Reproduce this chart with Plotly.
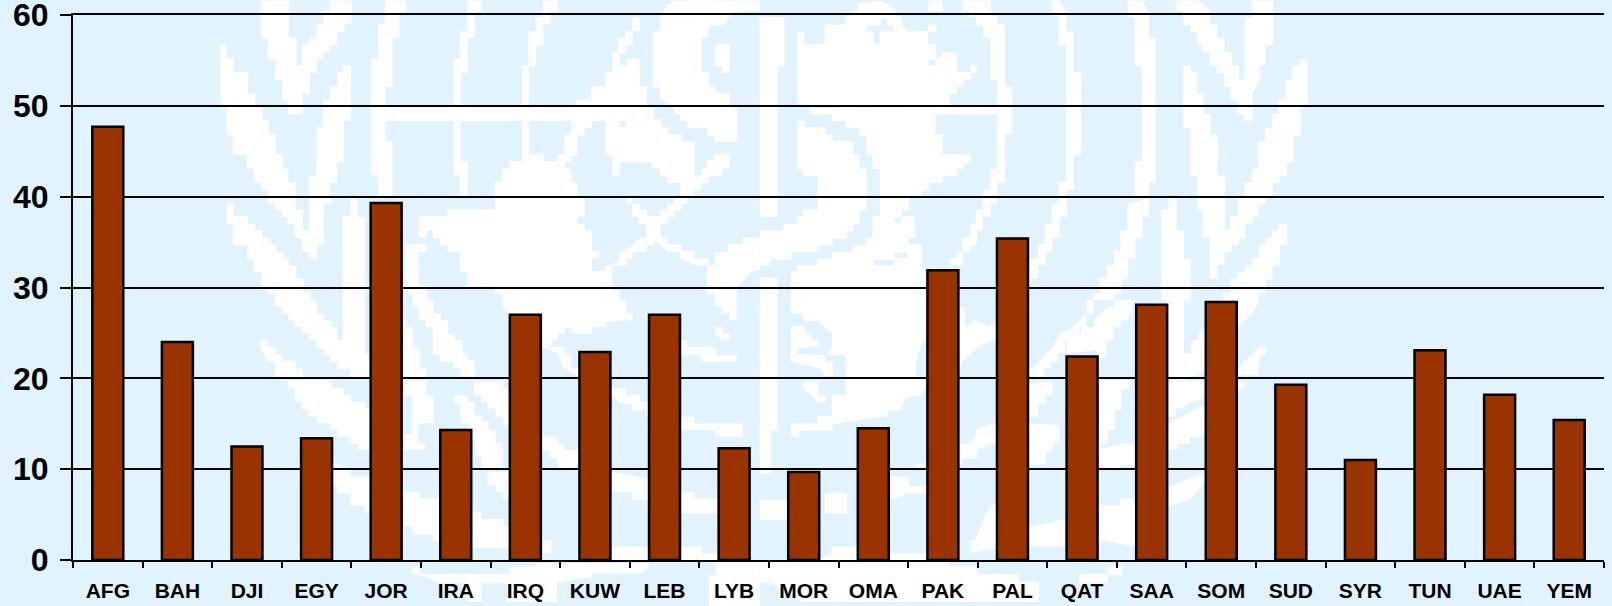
import plotly.graph_objects as go

categories = ["AFG","BAH","DJI","EGY","JOR","IRA","IRQ","KUW","LEB","LYB","MOR","OMA","PAK","PAL","QAT","SAA","SOM","SUD","SYR","TUN","UAE","YEM"]
values = [47.7,24.0,12.5,13.4,39.3,14.3,27.0,22.9,27.0,12.3,9.7,14.5,31.9,35.4,22.4,28.1,28.4,19.3,11.0,23.1,18.2,15.4]
y_ticks = [0,10,20,30,40,50,60]

# Watermark decoration: pale emblem drawn as page-pixel polygons (panel origin + offset/scale)
P1 = (200,0); P2 = (760,0); P3 = (200,300); P4 = (760,300)
WHITE = [
(P1,[(56,132),(75,132),(75,175),(95,175),(95,215),(135,215),(135,280),(155,280),(155,320),(175,320),(175,360),(192,360),(192,400),(212,400),(212,460),(232,460),(232,505),(248,505),(248,545),(268,545),(268,590),(190,590),(190,570),(170,570),(170,548),(150,548),(150,505),(132,505),(132,465),(92,465),(92,405),(75,405),(75,320),(56,320)]),
(P1,[(170,0),(250,0),(250,110),(270,110),(270,195),(285,195),(285,130),(305,130),(305,110),(325,110),(325,70),(345,70),(345,30),(365,30),(365,0),(425,0),(425,70),(405,70),(405,95),(385,95),(385,135),(365,135),(365,155),(345,155),(345,178),(328,178),(328,218),(308,218),(308,278),(288,278),(288,342),(245,342),(245,300),(230,300),(230,240),(210,240),(210,178),(190,178),(190,115),(170,115)]),
(P1,[(345,320),(345,297),(365,297),(365,258),(385,258),(385,215),(400,215),(400,195),(423,195),(423,362),(403,362),(403,487),(385,487),(385,548),(365,548),(365,590),(305,590),(305,525),(325,525),(325,380),(345,380)]),
(P1,[(518,0),(578,0),(578,32),(558,32),(558,112),(540,112),(540,260),(520,260),(520,320),(480,320),(480,173),(498,173),(498,70),(518,70)]),
(P1,[(480,320),(1040,320),(1040,362),(520,362),(520,422),(540,422),(540,590),(498,590),(498,525),(480,525)]),
(P1,[(420,595),(442,595),(442,650),(462,650),(462,900),(400,900),(400,648),(420,648)]),
(P1,[(750,0),(790,0),(790,32),(770,32),(770,112),(750,112),(750,218),(730,218),(730,320),(710,320),(710,175),(728,175),(728,92),(748,92)]),
(P1,[(960,0),(1002,0),(1002,32),(982,32),(982,70),(962,70),(962,135),(942,135),(942,198),(922,198),(922,320),(902,320),(902,195),(920,195),(920,92),(940,92),(940,50),(960,50)]),
(P1,[(710,362),(730,362),(730,482),(750,482),(750,590),(728,590),(728,525),(710,525)]),
(P1,[(902,362),(922,362),(922,462),(962,462),(962,482),(1000,482),(1000,462),(1020,462),(1020,402),(1040,402),(1040,362),(1098,362),(1098,382),(1078,382),(1078,405),(1058,405),(1058,465),(1040,465),(1040,487),(1022,487),(1022,505),(1040,505),(1040,545),(1058,545),(1058,590),(825,590),(825,545),(845,545),(845,505),(865,505),(865,482),(902,482)]),
(P1,[(1288,50),(1485,50),(1465,75),(1425,75),(1425,112),(1405,112),(1405,215),(1425,215),(1425,258),(1445,258),(1445,278),(1485,278),(1485,320),(1308,320),(1308,300),(1288,300),(1288,262),(1268,262),(1268,92),(1288,92)]),
(P1,[(1330,0),(1568,0),(1568,30),(1485,35),(1485,50),(1288,50),(1308,12)]),
(P1,[(1442,132),(1485,132),(1485,218),(1462,218),(1462,198),(1442,198)]),
(P1,[(1210,50),(1232,50),(1232,258),(1252,258),(1252,320),(1055,320),(1055,297),(1095,297),(1095,258),(1135,258),(1135,215),(1155,215),(1155,155),(1172,155),(1172,112),(1192,112),(1192,92),(1210,92)]),
(P1,[(1040,320),(1272,320),(1272,355),(1290,355),(1290,380),(1310,380),(1310,402),(1350,402),(1350,422),(1385,422),(1385,525),(1405,525),(1405,505),(1420,505),(1420,480),(1440,480),(1440,462),(1485,462),(1485,505),(1465,505),(1465,528),(1425,528),(1425,548),(1405,548),(1405,570),(1385,570),(1385,590),(1345,590),(1345,548),(1308,548),(1308,528),(1288,528),(1288,505),(1268,505),(1268,487),(1175,487),(1175,525),(1155,525),(1155,465),(1135,465),(1135,362),(1040,362)]),
(P1,[(1328,320),(1505,320),(1505,425),(1440,425),(1440,405),(1420,405),(1420,382),(1365,382),(1365,362),(1345,362),(1345,342),(1328,342)]),
(P1,[(75,608),(95,608),(95,648),(135,648),(135,670),(155,670),(155,690),(175,690),(175,712),(195,712),(195,732),(215,732),(215,755),(235,755),(235,775),(250,775),(250,795),(270,795),(270,835),(290,835),(290,875),(310,875),(310,900),(210,900),(210,880),(190,880),(190,860),(172,860),(172,815),(150,815),(150,777),(132,777),(132,735),(92,735),(92,672),(75,672)]),
(P1,[(190,592),(268,592),(268,628),(288,628),(288,690),(305,690),(305,592),(368,592),(368,612),(347,612),(347,735),(328,735),(328,777),(305,777),(305,755),(285,755),(285,712),(265,712),(265,672),(245,672),(245,650),(230,650),(230,630),(210,630),(210,612),(190,612)]),
(P1,[(828,590),(1078,590),(1078,650),(1058,650),(1058,670),(1078,670),(1078,690),(1098,690),(1098,752),(1118,752),(1118,775),(1098,775),(1098,812),(1135,812),(1135,795),(1155,795),(1155,870),(1175,870),(1175,900),(845,900),(845,880),(825,880),(825,858),(748,858),(748,815),(728,815),(728,755),(692,755),(692,735),(672,735),(672,715),(652,715),(652,692),(635,692),(635,712),(612,712),(612,648),(692,648),(692,628),(826,628)]),
(P1,[(575,732),(635,732),(635,755),(612,755),(612,795),(615,855),(635,855),(635,900),(595,900),(595,880),(565,880),(565,815),(575,815)]),
(P1,[(1195,590),(1212,590),(1212,610),(1232,610),(1232,628),(1252,628),(1252,648),(1288,648),(1288,628),(1308,628),(1308,610),(1328,610),(1328,590),(1365,590),(1365,610),(1350,610),(1350,630),(1330,630),(1330,650),(1310,650),(1310,672),(1290,672),(1290,710),(1310,710),(1310,732),(1350,732),(1350,752),(1385,752),(1385,775),(1425,775),(1425,795),(1442,795),(1442,755),(1480,755),(1480,732),(1520,732),(1520,712),(1568,712),(1568,810),(1540,815),(1525,840),(1505,860),(1505,900),(1442,900),(1442,880),(1420,880),(1420,795),(1385,795),(1345,775),(1345,755),(1310,755),(1288,735),(1272,715),(1272,735),(1252,735),(1252,755),(1212,755),(1212,775),(1195,775),(1195,795),(1155,795),(1175,775),(1175,755),(1212,735),(1232,712),(1250,712),(1250,672),(1228,672),(1228,650),(1210,650),(1210,610),(1195,610)]),
(P2,[(0,50),(70,50),(70,198),(50,198),(50,320),(0,320)]),
(P2,[(105,320),(105,95),(125,95),(125,132),(182,132),(182,72),(240,72),(240,45),(260,45),(260,30),(275,30),(275,8),(340,0),(360,12),(380,30),(380,45),(398,50),(398,72),(418,92),(470,92),(472,72),(495,72),(495,95),(472,95),(472,132),(493,132),(493,172),(510,172),(510,155),(552,155),(552,215),(590,215),(590,195),(608,195),(608,218),(592,218),(592,238),(572,238),(572,260),(552,260),(552,280),(532,280),(532,320)]),
(P2,[(472,0),(512,0),(512,32),(472,32)]),
(P2,[(568,0),(648,0),(648,40),(665,50),(665,72),(687,72),(687,258),(707,258),(707,320),(665,320),(665,240),(645,240),(645,112),(625,112),(625,75),(605,75),(605,50),(588,50),(588,32),(568,32)]),
(P2,[(818,0),(840,0),(860,40),(860,92),(880,92),(880,215),(900,215),(900,320),(857,320),(857,135),(837,135),(837,52),(818,45)]),
(P2,[(1030,0),(1072,0),(1090,40),(1090,112),(1110,112),(1110,320),(1070,320),(1070,198),(1050,198),(1050,50),(1030,50)]),
(P2,[(1165,0),(1228,0),(1242,12),(1262,30),(1262,72),(1282,72),(1282,112),(1302,112),(1302,155),(1322,155),(1322,195),(1342,195),(1342,238),(1358,238),(1358,50),(1378,50),(1378,0),(1438,0),(1438,135),(1418,135),(1418,195),(1400,195),(1400,238),(1380,280),(1380,320),(1338,320),(1338,300),(1318,300),(1318,260),(1300,260),(1300,218),(1280,218),(1280,198),(1260,198),(1260,155),(1240,155),(1240,135),(1225,135),(1225,95),(1205,95),(1205,75),(1185,75),(1185,32),(1165,32)]),
(P2,[(1185,195),(1208,195),(1208,215),(1225,215),(1225,278),(1243,278),(1243,320),(1185,320)]),
(P2,[(1512,175),(1535,175),(1535,320),(1452,320),(1452,297),(1472,297),(1472,238),(1492,238),(1492,195),(1512,195)]),
(P2,[(0,320),(50,320),(50,650),(0,650)]),
(P2,[(105,322),(142,322),(142,342),(202,342),(202,362),(240,362),(240,382),(278,382),(278,405),(298,405),(298,465),(316,465),(316,505),(336,505),(336,590),(455,590),(455,570),(475,570),(475,548),(512,548),(512,528),(552,528),(552,505),(572,505),(572,487),(592,487),(592,462),(512,462),(512,402),(492,402),(492,342),(665,342),(665,320)]),
(P2,[(105,360),(125,360),(125,380),(185,380),(185,402),(205,402),(205,422),(262,422),(262,462),(280,462),(280,505),(300,505),(300,590),(162,590),(162,528),(122,528),(122,507),(105,507)]),
(P2,[(665,320),(707,320),(707,402),(687,402),(687,548),(665,548),(665,590),(625,590),(625,567),(645,567),(645,505),(665,505)]),
(P2,[(857,320),(900,320),(900,465),(880,465),(880,570),(860,570),(860,590),(837,590),(837,545),(857,545)]),
(P2,[(1070,320),(1110,320),(1110,548),(1090,548),(1090,590),(1050,590),(1050,483),(1070,483)]),
(P2,[(1185,320),(1243,320),(1243,340),(1263,340),(1263,402),(1283,402),(1283,525),(1303,525),(1303,590),(1225,590),(1225,528),(1205,528),(1205,383),(1185,383)]),
(P2,[(1338,320),(1380,320),(1380,362),(1358,362),(1358,342),(1338,342)]),
(P2,[(1452,320),(1515,320),(1515,405),(1495,405),(1495,487),(1477,487),(1477,528),(1457,528),(1457,548),(1437,548),(1437,590),(1358,590),(1358,545),(1378,545),(1378,505),(1396,505),(1396,422),(1415,422),(1415,382),(1435,382),(1435,340),(1452,340)]),
(P2,[(162,590),(300,590),(300,630),(280,630),(280,672),(262,672),(262,692),(245,692),(245,715),(205,715),(205,735),(165,735),(165,755),(90,755),(90,778),(30,778),(30,795),(0,795),(0,690),(65,690),(65,670),(105,670),(105,648),(122,648),(122,628),(162,628)]),
(P2,[(0,832),(50,832),(50,900),(0,900)]),
(P2,[(105,795),(162,795),(162,775),(202,775),(202,755),(260,755),(260,735),(298,735),(298,712),(316,712),(316,648),(336,648),(336,590),(418,590),(418,628),(398,628),(398,648),(435,648),(435,690),(438,712),(418,712),(418,732),(455,732),(455,812),(470,812),(470,900),(87,900),(87,812),(105,812)]),
(P2,[(605,628),(625,628),(625,690),(608,690),(608,735),(590,735),(590,755),(570,755),(570,795),(530,795),(530,775),(550,775),(550,752),(568,752),(568,712),(588,712),(588,670),(605,670)]),
(P2,[(625,590),(665,590),(665,612),(647,612),(647,650),(627,650)]),
(P2,[(838,590),(860,590),(860,650),(840,650),(840,712),(820,712),(820,755),(800,755),(800,795),(780,795),(780,835),(762,835),(750,860),(750,800),(760,775),(778,775),(778,732),(798,732),(798,670),(818,670),(818,610),(838,610)]),
(P2,[(1050,605),(1090,592),(1090,650),(1072,650),(1072,712),(1052,712),(1052,775),(1032,775),(1032,838),(1014,838),(1014,880),(995,880),(995,900),(932,900),(932,878),(952,878),(952,832),(972,832),(972,795),(992,795),(992,752),(1010,752),(1010,690),(1030,690),(1030,610)]),
(P2,[(1145,595),(1168,595),(1168,690),(1188,690),(1188,775),(1207,775),(1207,900),(1125,900),(1125,628),(1145,628)]),
(P2,[(1225,590),(1303,590),(1303,690),(1318,690),(1318,648),(1338,648),(1338,590),(1418,590),(1418,612),(1398,612),(1398,650),(1380,650),(1380,672),(1360,672),(1360,715),(1340,715),(1340,735),(1322,735),(1322,755),(1302,755),(1302,795),(1282,795),(1282,835),(1260,835),(1260,712),(1240,712),(1240,630),(1225,630)]),
(P2,[(1452,670),(1477,670),(1477,735),(1457,735),(1457,795),(1437,795),(1437,838),(1418,838),(1418,878),(1398,878),(1398,900),(1298,900),(1298,878),(1318,878),(1318,835),(1338,835),(1338,815),(1358,815),(1358,795),(1378,795),(1378,772),(1398,772),(1398,733),(1415,733),(1415,712),(1435,712),(1435,690),(1452,690)]),
(P3,[(210,0),(328,0),(328,40),(348,40),(348,60),(368,60),(368,80),(385,80),(385,120),(400,120),(400,0),(462,0),(462,160),(475,160),(475,235),(420,235),(420,208),(385,208),(385,185),(365,185),(365,165),(345,165),(345,145),(325,145),(325,120),(305,120),(305,100),(285,100),(285,80),(265,80),(265,60),(248,60),(248,40),(230,40),(230,20),(210,20)]),
(P3,[(170,120),(190,120),(190,140),(212,140),(212,162),(232,162),(232,182),(268,182),(268,205),(288,205),(288,235),(210,235),(210,185),(190,185),(170,145)]),
(P3,[(230,240),(368,240),(368,262),(403,262),(403,285),(423,285),(423,305),(462,305),(462,325),(475,325),(475,450),(442,450),(442,432),(420,432),(420,410),(385,410),(385,390),(365,390),(365,370),(328,370),(328,350),(305,350),(305,330),(285,330),(285,305),(265,305),(265,265),(245,265),(245,240)]),
(P3,[(370,490),(385,490),(420,510),(420,530),(475,530),(475,640),(460,640),(460,618),(420,618),(420,580),(385,580),(385,555),(370,555)]),
(P3,[(595,0),(655,0),(655,40),(675,40),(675,60),(695,60),(695,100),(715,100),(715,120),(735,120),(735,160),(750,160),(750,180),(770,180),(770,230),(730,230),(730,205),(710,205),(710,185),(672,185),(672,165),(652,165),(652,80),(632,80),(632,60),(612,60),(612,20),(595,20)]),
(P3,[(565,60),(578,60),(578,80),(595,80),(595,140),(615,140),(615,205),(635,205),(635,235),(565,235)]),
(P3,[(568,242),(635,242),(635,285),(655,285),(655,370),(612,370),(612,430),(632,430),(632,450),(565,450),(565,400),(595,400),(595,290),(568,290)]),
(P3,[(712,285),(750,285),(750,305),(770,305),(770,345),(790,345),(790,365),(810,365),(810,390),(828,390),(828,430),(848,430),(848,505),(788,505),(788,470),(770,470),(770,420),(750,420),(750,370),(730,370),(730,310),(712,310)]),
(P3,[(768,245),(850,245),(850,265),(865,265),(865,375),(848,375),(848,350),(828,350),(828,325),(805,325),(805,305),(788,305),(788,285),(768,285)]),
(P3,[(565,575),(615,575),(615,595),(672,595),(672,725),(652,725),(652,705),(595,705),(595,680),(565,680)]),
(P3,[(805,515),(870,515),(870,598),(848,598),(848,575),(828,575),(828,555),(805,555)]),
(P3,[(762,635),(790,635),(790,657),(850,657),(850,678),(870,678),(870,745),(765,745)]),
(P3,[(960,720),(984,720),(984,760),(960,760)]),
(P3,[(847,0),(1195,0),(1195,40),(1212,40),(1212,60),(1138,65),(1138,80),(1098,80),(1098,100),(1040,100),(1040,82),(1022,82),(1022,100),(1002,100),(1002,122),(984,122),(984,140),(1022,140),(1022,160),(1040,160),(1040,205),(1062,205),(1062,230),(1020,205),(1000,160),(958,140),(958,40),(870,40),(847,20)]),
(P3,[(1345,120),(1365,120),(1365,140),(1445,140),(1445,165),(1505,165),(1505,185),(1405,185),(1405,165),(1345,165)]),
(P3,[(1345,350),(1385,350),(1385,370),(1520,370),(1520,410),(1442,410),(1442,390),(1385,390),(1345,390)]),
(P3,[(1155,265),(1195,265),(1195,285),(1232,285),(1232,305),(1262,305),(1262,350),(1250,350),(1250,330),(1210,330),(1210,310),(1175,310),(1155,285)]),
(P3,[(960,410),(1002,410),(1002,430),(1022,430),(1022,450),(1062,450),(1062,505),(1002,505),(1002,475),(980,475),(980,450),(960,450)]),
(P3,[(1155,515),(1255,535),(1255,598),(1210,598),(1210,575),(1155,575)]),
(P3,[(1345,575),(1385,575),(1385,595),(1450,595),(1450,640),(1345,640)]),
(P3,[(1155,740),(1258,740),(1258,780),(1155,780)]),
(P3,[(1345,740),(1405,740),(1405,760),(1450,760),(1450,780),(1345,780)]),
(P3,[(1443,0),(1503,0),(1503,60),(1483,60),(1483,40),(1463,40),(1463,20),(1443,20)]),
(P3,[(1443,80),(1463,80),(1463,100),(1483,100),(1483,122),(1463,122),(1443,100)]),
(P3,[(595,800),(615,800),(615,822),(865,822),(865,800),(940,800),(940,790),(1258,790),(1258,800),(1240,820),(1100,820),(1100,830),(1000,850),(1000,906),(860,906),(860,850),(790,850),(790,906),(750,906),(750,850),(675,850),(615,825),(595,825)]),
(P3,[(1445,785),(1568,785),(1568,918),(1425,918),(1425,825),(1445,825)]),
(P4,[(0,0),(50,0),(50,392),(32,392),(32,520),(0,520)]),
(P4,[(87,0),(470,0),(470,120),(455,125),(437,190),(437,235),(470,235),(470,240),(455,285),(418,290),(400,310),(398,330),(360,330),(360,350),(340,350),(205,372),(205,392),(110,392),(110,410),(87,410),(87,370),(162,370),(162,348),(202,348),(202,285),(240,285),(240,165),(185,165),(202,140),(202,102),(182,82),(162,62),(122,62),(122,40),(87,40)]),
(P4,[(87,78),(125,78),(125,100),(145,100),(145,120),(165,120),(165,140),(105,145),(105,160),(87,160)]),
(P4,[(87,160),(185,165),(185,185),(205,185),(205,228),(185,228),(165,205),(87,185)]),
(P4,[(122,245),(165,245),(165,285),(185,285),(185,308),(162,308),(145,285),(122,265)]),
(P4,[(0,600),(80,600),(80,660),(0,660)]),
(P4,[(182,578),(245,578),(245,640),(182,640)]),
(P4,[(202,740),(275,740),(275,780),(165,780),(202,760)]),
(P4,[(365,530),(418,530),(418,558),(470,558),(470,580),(418,580),(378,597),(365,597)]),
(P4,[(440,490),(470,490),(470,510),(435,510)]),
(P4,[(365,760),(470,760),(470,780),(365,780)]),
(P4,[(560,20),(575,20),(575,80),(605,60),(640,78),(665,60),(665,120),(650,120),(610,145),(570,180),(560,205)]),
(P4,[(560,430),(585,430),(605,410),(605,390),(645,370),(665,370),(665,430),(645,430),(610,450),(610,475),(570,475),(570,495),(560,495)]),
(P4,[(590,720),(605,720),(625,660),(645,615),(665,615),(665,745),(590,760)]),
(P4,[(915,0),(935,0),(935,40),(915,40),(915,80),(895,80),(895,100),(875,100),(875,120),(855,120),(855,160),(835,160),(835,185),(815,185),(815,205),(795,205),(795,230),(750,230),(750,210),(780,190),(800,160),(820,140),(840,100),(878,80),(895,60),(915,40)]),
(P4,[(750,250),(820,245),(820,285),(800,285),(800,310),(780,310),(780,350),(750,350)]),
(P4,[(750,370),(840,375),(840,430),(820,430),(820,455),(800,455),(800,495),(750,495)]),
(P4,[(995,0),(1050,0),(1032,60),(1012,60),(1012,80),(992,80),(992,120),(972,120),(972,170),(945,180),(945,150),(860,160),(860,120),(880,100),(900,100),(900,80),(935,80),(935,60),(955,40),(975,20),(995,20)]),
(P4,[(945,240),(1035,240),(1035,265),(1015,265),(1015,330),(995,330),(995,390),(975,390),(975,430),(955,430),(955,470),(945,470)]),
(P4,[(945,450),(1010,430),(1050,430),(1050,495),(1012,495),(1012,510),(945,510)]),
(P4,[(945,615),(1010,615),(1010,595),(1052,595),(1052,740),(945,720)]),
(P4,[(750,680),(856,658),(856,740),(750,740)]),
(P4,[(1140,0),(1188,0),(1188,160),(1208,160),(1208,120),(1228,120),(1228,100),(1250,80),(1250,205),(1225,225),(1190,240),(1140,240)]),
(P4,[(1140,245),(1250,240),(1250,285),(1225,305),(1205,305),(1185,325),(1165,325),(1165,350),(1140,350)]),
(P4,[(1145,370),(1250,310),(1250,410),(1205,410),(1205,432),(1170,432),(1170,450),(1140,450)]),
(P4,[(1145,560),(1250,515),(1250,540),(1225,575),(1205,600),(1145,618)]),
(P4,[(1340,0),(1400,0),(1380,40),(1360,60),(1340,80)]),
(P4,[(1340,205),(1400,140),(1418,140),(1418,165),(1398,165),(1398,225),(1340,225)]),
(P4,[(1340,245),(1360,245),(1360,265),(1340,265)]),
(P4,[(0,785),(532,785),(532,800),(610,800),(610,822),(725,822),(725,845),(782,845),(782,906),(120,906),(30,848),(0,848)]),
(P4,[(895,822),(975,822),(975,800),(1015,800),(1015,825),(975,825),(975,850),(895,850)]),
]
BLUE = [
(P1,[(1212,92),(1232,92),(1232,175),(1195,175),(1195,195),(1175,195),(1175,158),(1195,158),(1195,135),(1212,135)]),
(P2,[(300,75),(338,75),(338,55),(356,55),(356,75),(375,75),(375,92),(336,92),(336,130),(320,130),(320,92),(300,92)]),
(P2,[(378,652),(395,652),(395,668),(378,668)]),
(P2,[(378,757),(414,757),(414,773),(378,773)]),
(P2,[(320,778),(375,778),(375,795),(320,795)]),
(P2,[(472,178),(490,178),(490,195),(472,195)]),
(P2,[(125,72),(146,72),(146,95),(125,95)]),
(P1,[(1175,362),(1193,362),(1193,380),(1175,380)]),
]

L, R, T, B = 73, 1604.5, 14.5, 560

def to_path(origin, pts):
    ox, oy = origin
    out = []
    for i, (zx, zy) in enumerate(pts):
        px = ox + zx / 2.8
        py = oy + zy / 3
        out.append(("M" if i == 0 else "L") + f"{(px-L)/(R-L):.5f},{(B-py)/(B-T):.5f}")
    return " ".join(out) + " Z"

shapes = []
for color, polys in (("#ffffff", WHITE), ("#e1f3fe", BLUE)):
    for origin, pts in polys:
        shapes.append(dict(type="path", xref="paper", yref="paper", layer="below",
                           path=to_path(origin, pts), fillcolor=color, line=dict(width=0)))

fig = go.Figure(go.Bar(x=categories, y=values, marker=dict(color="#993300", line=dict(color="#000000", width=2.5)),
                       hoverinfo="x+y"))
fig.update_layout(
    width=1612, height=606, autosize=False, showlegend=False, bargap=0.555,
    margin=dict(l=L, r=1612-R, t=T, b=606-B, pad=0),
    paper_bgcolor="#e1f3fe", plot_bgcolor="rgba(0,0,0,0)",
    font=dict(family="Liberation Sans", color="#000000"),
    shapes=shapes,
)
fig.update_xaxes(type="category", tickson="boundaries", ticks="outside", ticklen=6, tickwidth=2, tickcolor="#000",
                 showline=True, linecolor="#000", linewidth=2, mirror=True, showgrid=False, automargin=False,
                 tickfont=dict(size=21, family="Liberation Sans", weight=700), ticklabelstandoff=11, tickangle=0,
                 ticklabeloverflow="allow")
fig.update_yaxes(range=[0,60], tickvals=y_ticks, ticks="outside", ticklen=11, tickwidth=2, tickcolor="#000",
                 showline=True, linecolor="#000", linewidth=2, showgrid=True, gridcolor="#000", gridwidth=1.7,
                 zeroline=False, automargin=False,
                 tickfont=dict(size=32, family="Liberation Sans", weight=700), ticklabelstandoff=5,
                 ticklabeloverflow="allow")
fig.write_html("out.html", config=dict(displayModeBar=False),
               post_script="document.body.style.margin='0';document.documentElement.style.overflow='hidden';")
